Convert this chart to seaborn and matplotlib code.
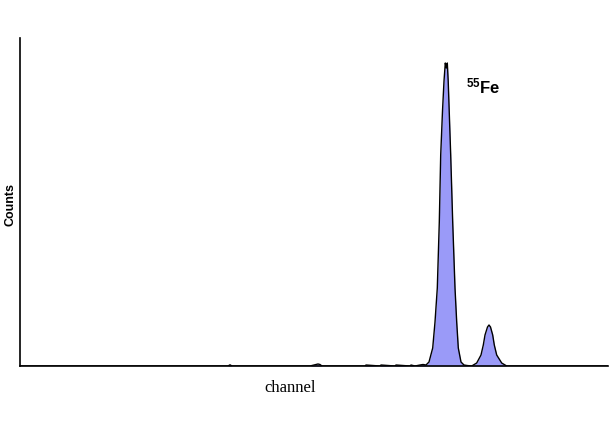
import matplotlib
matplotlib.use("Agg")
import matplotlib as mpl
import matplotlib.pyplot as plt
import seaborn as sns
import pandas as pd

# spectrum: channel vs counts
channel = [0, 150, 208, 210, 212, 290, 296, 298, 300, 302, 330, 345, 346, 360, 361, 375, 376, 390, 391, 395,
           400, 403, 406, 409, 412.7, 415, 417.3, 419.3, 420.7, 422.5, 424, 425.3, 426.3, 427.3, 428.2,
           430.7, 432.7, 435, 436.7, 438.3, 441, 444, 447, 451.7, 456.7, 461, 463.3, 465, 467.5, 469,
           470.5, 472.7, 474.3, 476.7, 481.7, 486.7, 520, 588]
counts = [0, 0, 0, 1.2, 0, 0, 1.5, 2, 1.5, 0, 0, 0, 1, 0, 1, 0, 1, 0, 1, 0,
          1, 1.5, 1, 4, 18, 44, 78, 144, 211, 255, 285, 303, 298, 303, 285,
          211, 144, 78, 44, 18, 4, 1, 0.5, 0, 3, 11, 21, 31, 39, 41,
          39, 31, 21, 11, 3, 0, 0, 0]

df = pd.DataFrame({"channel": channel, "counts": counts})

sns.set_style("white")
mpl.rcParams["mathtext.default"] = "regular"
fig = plt.figure(figsize=(6.1, 4.22), dpi=100)
ax = fig.add_axes([20/610, 56/422, 588/610, 328/422])

ax.fill_between(df["channel"].to_numpy(), df["counts"].to_numpy(), 0,
                color="#9a9af8", lw=0, zorder=1)
sns.lineplot(data=df, x="channel", y="counts", ax=ax, color="black", lw=1.0,
             estimator=None, sort=False, zorder=2)

ax.set_xlim(0, 588)
ax.set_ylim(0, 328)
ax.set_xticks([])
ax.set_yticks([])
for s in ["top", "right"]:
    ax.spines[s].set_visible(False)
for s in ["left", "bottom"]:
    ax.spines[s].set_color("black")
    ax.spines[s].set_linewidth(1.2)

ax.set_xlabel("")
ax.set_ylabel("")
fig.text(290/610, 1 - 388/422, "channel", family="Liberation Serif", fontsize=12,
         ha="center", va="center", color="black")
fig.text(11/610, 1 - 205/422, "Counts", family="Liberation Sans", fontsize=9,
         fontweight="bold", rotation=90, ha="center", va="center", color="black")
ax.text(446, 280, r"$^{55}$Fe", family="Liberation Sans", fontsize=12, fontweight="bold",
        ha="left", va="center", color="black")

fig.savefig("out.png", dpi=100)
